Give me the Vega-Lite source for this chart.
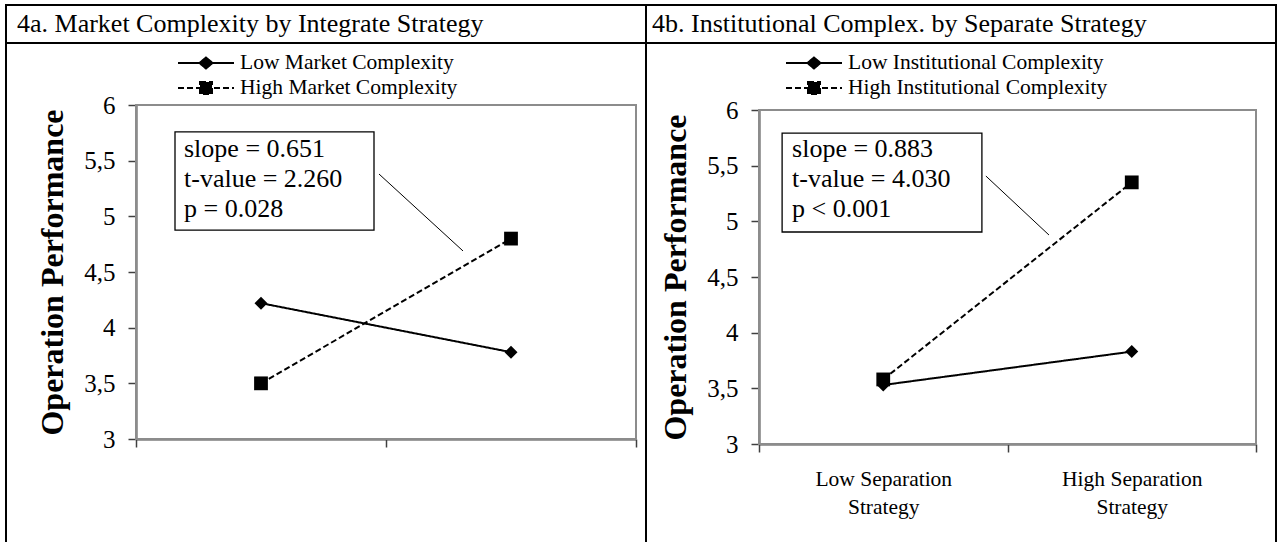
{
  "$schema": "https://vega.github.io/schema/vega-lite/v6.json",
  "background": "white",
  "padding": {"left": 5, "top": 4, "right": 4, "bottom": 0},
  "columns": 2,
  "spacing": 0,
  "bounds": "flush",
  "align": "each",
  "config": {
    "font": "Liberation Serif",
    "view": {"stroke": "black", "strokeWidth": 2},
    "axis": {"grid": false, "labelColor": "black", "titleColor": "black", "labelFont": "Liberation Serif", "titleFont": "Liberation Serif", "domainColor": "#404040", "tickColor": "#404040", "domainWidth": 2, "tickWidth": 1.5, "zindex": 1},
    "legend": {"labelFont": "Liberation Serif", "labelColor": "black", "title": null, "orient": "none", "padding": 0, "symbolSize": 400, "symbolStrokeWidth": 2, "symbolStrokeColor": "black", "symbolFillColor": "black", "labelFontSize": 21.5, "labelOffset": 23, "labelLimit": 400}
  },
  "concat": [
    {
      "width": 640, "height": 38,
      "view": {"stroke": "black", "strokeWidth": 2},
      "data": {"values": [{"heading": "4a. Market Complexity by Integrate Strategy"}]},
      "mark": {"type": "text", "align": "left", "baseline": "alphabetic", "font": "Liberation Serif", "fontSize": 26, "color": "black"},
      "encoding": {"text": {"field": "heading", "type": "nominal"}, "x": {"value": 11}, "y": {"value": 27}}
    },
    {
      "width": 630, "height": 38,
      "view": {"stroke": "black", "strokeWidth": 2},
      "data": {"values": [{"heading": "4b. Institutional Complex. by Separate Strategy"}]},
      "mark": {"type": "text", "align": "left", "baseline": "alphabetic", "font": "Liberation Serif", "fontSize": 26, "color": "black"},
      "encoding": {"text": {"field": "heading", "type": "nominal"}, "x": {"value": 6}, "y": {"value": 27}}
    },
    {
      "width": 640, "height": 520,
      "layer": [
        {
          "data": {"values": [{"stats": "slope = 0.651\nt-value = 2.260\np = 0.028"}]},
          "layer": [
            {"mark": {"type": "rect", "fill": "transparent", "stroke": "#8c8c8c", "strokeWidth": 2},
             "encoding": {
               "x": {"datum": 0.5, "type": "quantitative", "scale": {"domain": [0.5, 2.5], "range": [130, 630], "nice": false, "zero": false}, "axis": null},
               "x2": {"datum": 2.5},
               "y": {"datum": 3, "type": "quantitative", "axis": null},
               "y2": {"datum": 6}}},
            {"mark": {"type": "rect", "fill": "white", "stroke": "black", "strokeWidth": 1.3},
             "encoding": {
               "x": {"datum": 0.656, "type": "quantitative", "axis": null},
               "x2": {"datum": 1.452},
               "y": {"datum": 5.758, "type": "quantitative", "axis": null},
               "y2": {"datum": 4.877}}},
            {"mark": {"type": "rule", "stroke": "black", "strokeWidth": 1},
             "encoding": {
               "x": {"datum": 1.472, "type": "quantitative", "axis": null},
               "x2": {"datum": 1.808},
               "y": {"datum": 5.380, "type": "quantitative", "axis": null},
               "y2": {"datum": 4.689}}},
            {"mark": {"type": "text", "align": "left", "baseline": "top", "lineBreak": "\n", "lineHeight": 30, "fontSize": 26, "font": "Liberation Serif", "color": "black"},
             "encoding": {
               "text": {"field": "stats", "type": "nominal"},
               "x": {"datum": 0.692, "type": "quantitative", "axis": null},
               "y": {"datum": 5.726, "type": "quantitative", "axis": null}}}
          ]
        },
        {
          "data": {"values": [
            {"strategy": "Low Integrate Strategy", "series": "Low Market Complexity", "performance": 4.22},
            {"strategy": "High Integrate Strategy", "series": "Low Market Complexity", "performance": 3.78},
            {"strategy": "Low Integrate Strategy", "series": "High Market Complexity", "performance": 3.50},
            {"strategy": "High Integrate Strategy", "series": "High Market Complexity", "performance": 4.80}
          ]},
          "encoding": {
            "x": {"field": "strategy", "type": "nominal",
                  "scale": {"type": "band", "domain": ["Low Integrate Strategy", "High Integrate Strategy"], "range": [130, 630], "paddingInner": 0, "paddingOuter": 0},
                  "axis": {"orient": "bottom", "offset": -124, "tickBand": "extent", "tickSize": 8, "labels": false, "title": null}},
            "y": {"field": "performance", "type": "quantitative",
                  "scale": {"domain": [3, 6], "range": [396, 62], "nice": false, "zero": false},
                  "axis": {"orient": "left", "offset": -130, "values": [3, 3.5, 4, 4.5, 5, 5.5, 6], "labelExpr": "replace(toString(datum.value), '.', ',')", "labelFontSize": 25, "labelPadding": 13, "tickSize": 8, "title": "Operation Performance", "titleFontSize": 32, "titleFontWeight": "bold", "titlePadding": 14}}
          },
          "layer": [
            {"transform": [{"filter": "datum.series === 'Low Market Complexity'"}],
             "mark": {"type": "line", "color": "black", "strokeWidth": 2},
             "encoding": {
               "strokeDash": {"field": "series", "type": "nominal",
                 "scale": {"domain": ["Low Market Complexity"], "range": [[1, 0]]},
                 "legend": {"legendX": 189, "legendY": 9, "symbolType": "M-2.8,0L2.8,0M0,-0.55L0.65,0L0,0.55L-0.65,0Z"}}}},
            {"transform": [{"filter": "datum.series === 'High Market Complexity'"}],
             "mark": {"type": "line", "color": "black", "strokeWidth": 2},
             "encoding": {
               "strokeDash": {"field": "series", "type": "nominal",
                 "scale": {"domain": ["High Market Complexity"], "range": [[6, 3]]},
                 "legend": {"legendX": 189, "legendY": 34, "symbolType": "M-2.8,0L2.8,0M-0.6,-0.6L0.6,-0.6L0.6,0.6L-0.6,0.6Z"}}}},
            {"transform": [{"filter": "datum.series === 'Low Market Complexity'"}],
             "mark": {"type": "point", "shape": "diamond", "filled": true, "color": "black", "size": 169, "opacity": 1}},
            {"transform": [{"filter": "datum.series === 'High Market Complexity'"}],
             "mark": {"type": "point", "shape": "square", "filled": true, "color": "black", "size": 190, "opacity": 1}}
          ],
          "resolve": {"scale": {"strokeDash": "independent"}}
        }
      ],
      "resolve": {"scale": {"x": "independent", "strokeDash": "independent"}, "axis": {"y": "independent"}}
    },
    {
      "width": 630, "height": 520,
      "layer": [
        {
          "data": {"values": [{"stats": "slope = 0.883\nt-value = 4.030\np < 0.001"}]},
          "layer": [
            {"mark": {"type": "rect", "fill": "transparent", "stroke": "#8c8c8c", "strokeWidth": 2},
             "encoding": {
               "x": {"datum": 0.5, "type": "quantitative", "scale": {"domain": [0.5, 2.5], "range": [113, 610], "nice": false, "zero": false}, "axis": null},
               "x2": {"datum": 2.5},
               "y": {"datum": 3, "type": "quantitative", "axis": null},
               "y2": {"datum": 6}}},
            {"mark": {"type": "rect", "fill": "white", "stroke": "black", "strokeWidth": 1.3},
             "encoding": {
               "x": {"datum": 0.593, "type": "quantitative", "axis": null},
               "x2": {"datum": 1.397},
               "y": {"datum": 5.793, "type": "quantitative", "axis": null},
               "y2": {"datum": 4.904}}},
            {"mark": {"type": "rule", "stroke": "black", "strokeWidth": 1},
             "encoding": {
               "x": {"datum": 1.413, "type": "quantitative", "axis": null},
               "x2": {"datum": 1.667},
               "y": {"datum": 5.407, "type": "quantitative", "axis": null},
               "y2": {"datum": 4.877}}},
            {"mark": {"type": "text", "align": "left", "baseline": "top", "lineBreak": "\n", "lineHeight": 30, "fontSize": 26, "font": "Liberation Serif", "color": "black"},
             "encoding": {
               "text": {"field": "stats", "type": "nominal"},
               "x": {"datum": 0.633, "type": "quantitative", "axis": null},
               "y": {"datum": 5.762, "type": "quantitative", "axis": null}}}
          ]
        },
        {
          "data": {"values": [
            {"strategy": "Low Separation Strategy", "series": "Low Institutional Complexity", "performance": 3.53},
            {"strategy": "High Separation Strategy", "series": "Low Institutional Complexity", "performance": 3.83},
            {"strategy": "Low Separation Strategy", "series": "High Institutional Complexity", "performance": 3.58},
            {"strategy": "High Separation Strategy", "series": "High Institutional Complexity", "performance": 5.35}
          ]},
          "encoding": {
            "x": {"field": "strategy", "type": "nominal",
                  "scale": {"type": "band", "domain": ["Low Separation Strategy", "High Separation Strategy"], "range": [113, 610], "paddingInner": 0, "paddingOuter": 0},
                  "axis": {"orient": "bottom", "offset": -119, "tickBand": "extent", "tickSize": 8, "title": null, "labelExpr": "datum.label ? [replace(datum.label, ' Strategy', ''), 'Strategy'] : ''", "labelAngle": 0, "labelAlign": "center", "labelFontSize": 21.5, "labelLineHeight": 28, "labelPadding": 16, "labelLimit": 400, "labelBaseline": "top"}},
            "y": {"field": "performance", "type": "quantitative",
                  "scale": {"domain": [3, 6], "range": [401, 67], "nice": false, "zero": false},
                  "axis": {"orient": "left", "offset": -113, "values": [3, 3.5, 4, 4.5, 5, 5.5, 6], "labelExpr": "replace(toString(datum.value), '.', ',')", "labelFontSize": 25, "labelPadding": 13, "tickSize": 8, "title": "Operation Performance", "titleFontSize": 32, "titleFontWeight": "bold", "titlePadding": 14}}
          },
          "layer": [
            {"transform": [{"filter": "datum.series === 'Low Institutional Complexity'"}],
             "mark": {"type": "line", "color": "black", "strokeWidth": 2},
             "encoding": {
               "strokeDash": {"field": "series", "type": "nominal",
                 "scale": {"domain": ["Low Institutional Complexity"], "range": [[1, 0]]},
                 "legend": {"legendX": 157, "legendY": 9, "symbolType": "M-2.8,0L2.8,0M0,-0.55L0.65,0L0,0.55L-0.65,0Z"}}}},
            {"transform": [{"filter": "datum.series === 'High Institutional Complexity'"}],
             "mark": {"type": "line", "color": "black", "strokeWidth": 2},
             "encoding": {
               "strokeDash": {"field": "series", "type": "nominal",
                 "scale": {"domain": ["High Institutional Complexity"], "range": [[6, 3]]},
                 "legend": {"legendX": 157, "legendY": 34, "symbolType": "M-2.8,0L2.8,0M-0.6,-0.6L0.6,-0.6L0.6,0.6L-0.6,0.6Z"}}}},
            {"transform": [{"filter": "datum.series === 'Low Institutional Complexity'"}],
             "mark": {"type": "point", "shape": "diamond", "filled": true, "color": "black", "size": 169, "opacity": 1}},
            {"transform": [{"filter": "datum.series === 'High Institutional Complexity'"}],
             "mark": {"type": "point", "shape": "square", "filled": true, "color": "black", "size": 190, "opacity": 1}}
          ],
          "resolve": {"scale": {"strokeDash": "independent"}}
        }
      ],
      "resolve": {"scale": {"x": "independent", "strokeDash": "independent"}, "axis": {"y": "independent"}}
    }
  ]
}
